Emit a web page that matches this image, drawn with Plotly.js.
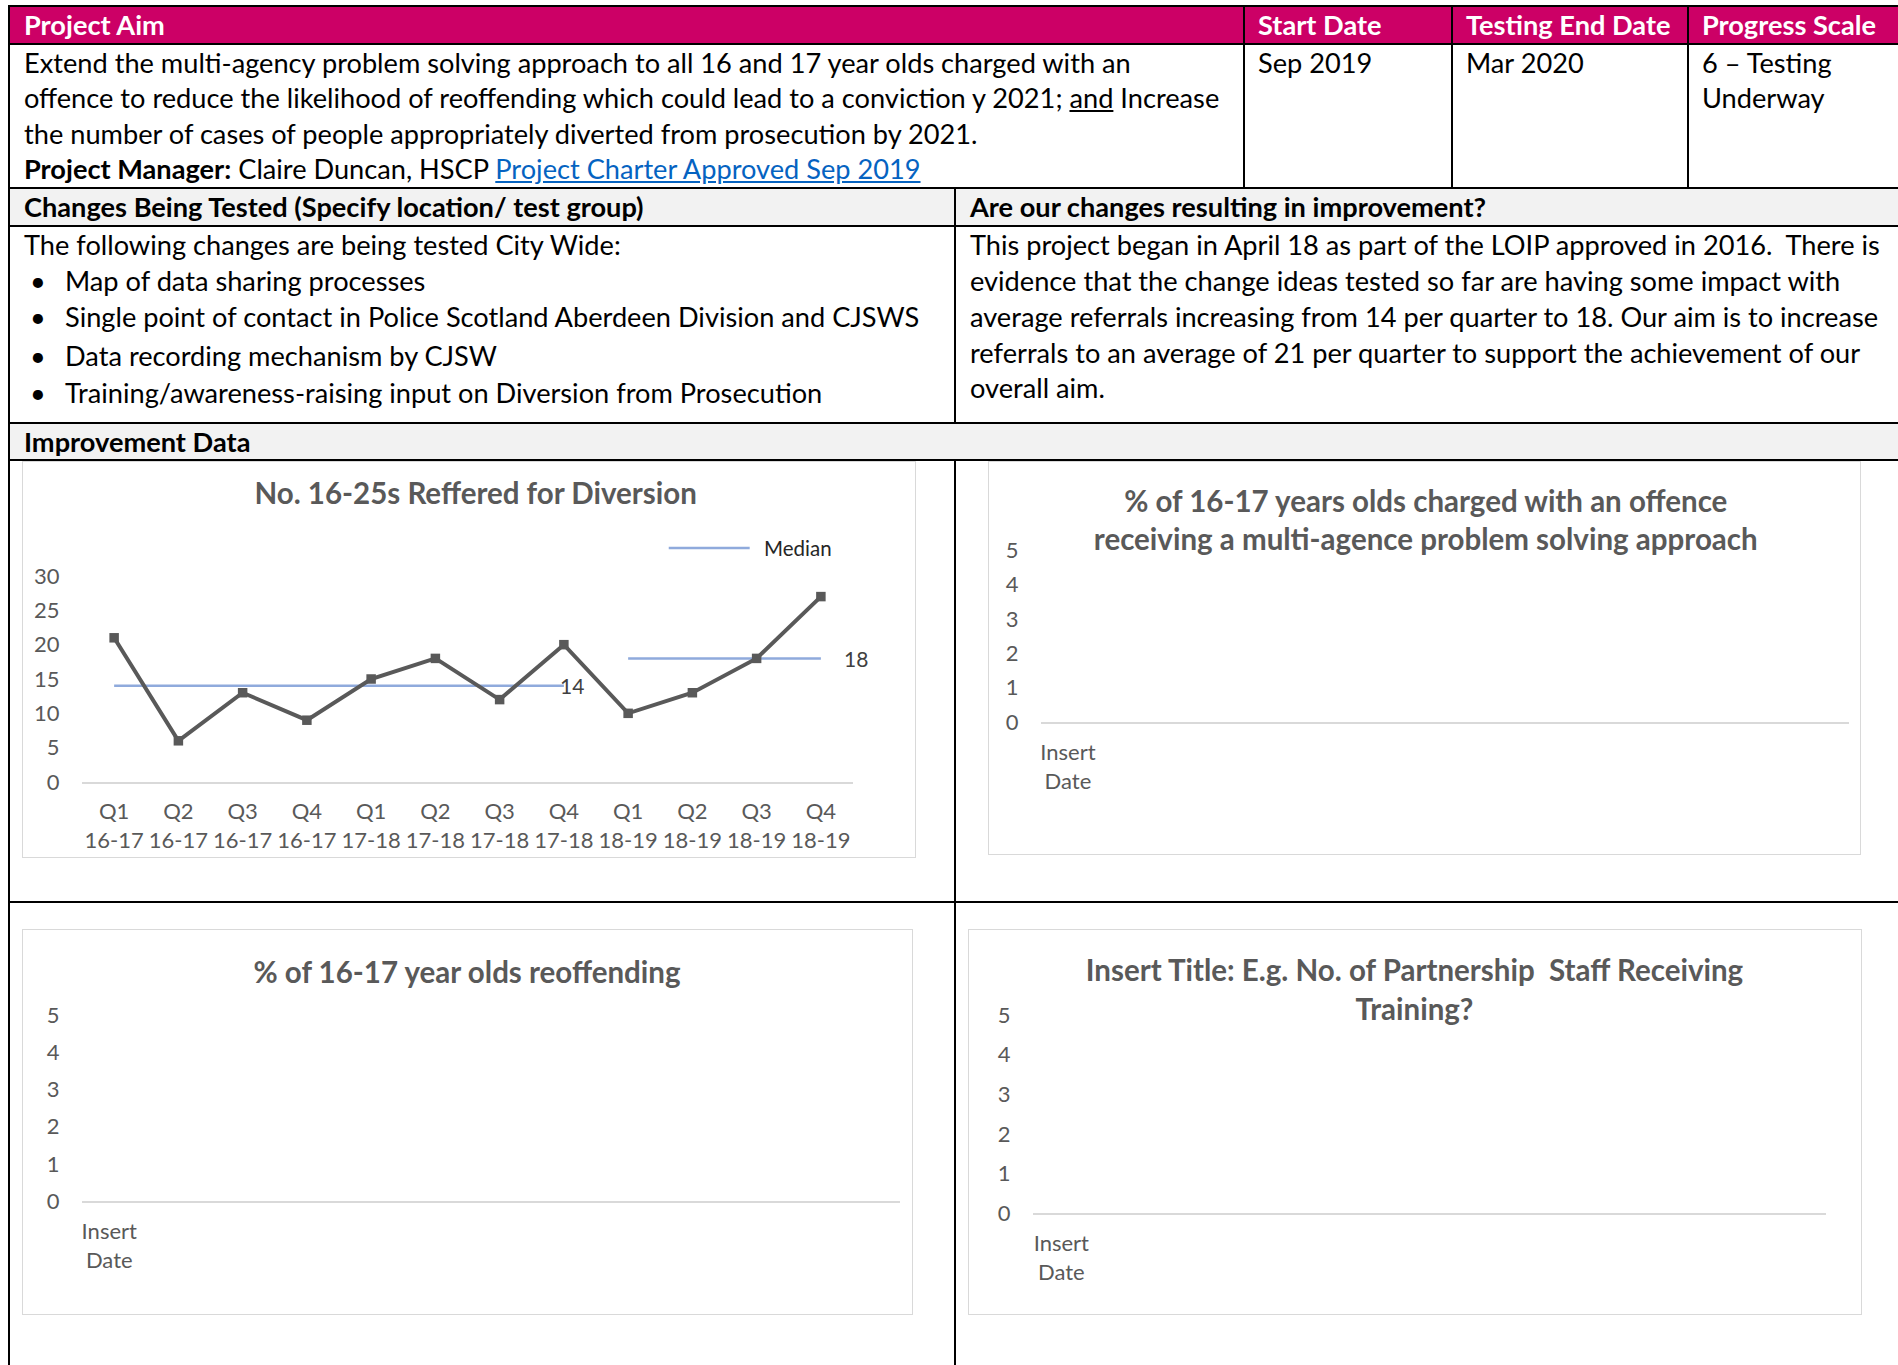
<!DOCTYPE html>
<html><head><meta charset="utf-8">
<script src="https://cdn.plot.ly/plotly-3.0.1.min.js"></script>
<style>
html,body{margin:0;padding:0;background:#fff;width:1898px;height:1365px;overflow:hidden;font-family:Lato,'Open Sans',sans-serif;}
.hl{position:absolute;background:#000;height:2px;}
.vl{position:absolute;background:#000;width:2px;}
.bg{position:absolute;}
.t{position:absolute;white-space:nowrap;font-size:27.2px;color:#000;height:36px;line-height:36px;}
.b{font-weight:bold;}
.w{color:#fff;font-weight:bold;}
.lk{color:#0563c1;text-decoration:underline;}
.u{text-decoration:underline;}
.box{position:absolute;border:1.5px solid #d9d9d9;background:#fff;box-sizing:border-box;}
</style>
</head><body>
<!-- backgrounds -->
<div class="bg" style="left:9px;top:5px;width:1889px;height:40px;background:#cc0066;"></div>
<div class="bg" style="left:9px;top:188px;width:1889px;height:38px;background:#f2f2f2;"></div>
<div class="bg" style="left:9px;top:423px;width:1889px;height:37px;background:#f2f2f2;"></div>
<!-- borders -->
<div class="hl" style="left:9px;top:5px;width:1889px;"></div>
<div class="hl" style="left:9px;top:43px;width:1889px;"></div>
<div class="hl" style="left:9px;top:187px;width:1889px;"></div>
<div class="hl" style="left:9px;top:225px;width:1889px;"></div>
<div class="hl" style="left:9px;top:422px;width:1889px;"></div>
<div class="hl" style="left:9px;top:459px;width:1889px;"></div>
<div class="hl" style="left:9px;top:901px;width:1889px;"></div>
<div class="vl" style="left:8px;top:5px;height:1360px;"></div>
<div class="vl" style="left:1243px;top:5px;height:183px;"></div>
<div class="vl" style="left:1451px;top:5px;height:183px;"></div>
<div class="vl" style="left:1687px;top:5px;height:183px;"></div>
<div class="vl" style="left:954px;top:188px;height:235px;"></div>
<div class="vl" style="left:954px;top:460px;height:905px;"></div>

<!-- header row -->
<div class="t w" style="left:24px;top:7px;">Project Aim</div>
<div class="t w" style="left:1258px;top:7px;">Start Date</div>
<div class="t w" style="left:1466px;top:7px;">Testing End Date</div>
<div class="t w" style="left:1702px;top:7px;">Progress Scale</div>
<!-- row 1 -->
<div class="t" style="left:24px;top:45px;">Extend the multi-agency problem solving approach to all 16 and 17 year olds charged with an</div>
<div class="t" style="left:24px;top:80px;">offence to reduce the likelihood of reoffending which could lead to a conviction y 2021; <span class="u">and</span> Increase</div>
<div class="t" style="left:24px;top:116px;">the number of cases of people appropriately diverted from prosecution by 2021.</div>
<div class="t" style="left:24px;top:151px;"><span class="b">Project Manager:</span> Claire Duncan, HSCP <span class="lk">Project Charter Approved Sep 2019 </span></div>
<div class="t" style="left:1258px;top:45px;">Sep 2019</div>
<div class="t" style="left:1466px;top:45px;">Mar 2020</div>
<div class="t" style="left:1702px;top:45px;">6 – Testing</div>
<div class="t" style="left:1702px;top:80px;">Underway</div>
<!-- row 2 -->
<div class="t b" style="left:24px;top:189px;">Changes Being Tested (Specify location/ test group)</div>
<div class="t b" style="left:970px;top:189px;">Are our changes resulting in improvement?</div>
<div class="t" style="left:24px;top:227px;">The following changes are being tested City Wide:</div>
<div class="t" style="left:30px;top:263px;">•</div><div class="t" style="left:65px;top:263px;">Map of data sharing processes</div>
<div class="t" style="left:30px;top:299px;">•</div><div class="t" style="left:65px;top:299px;">Single point of contact in Police Scotland Aberdeen Division and CJSWS</div>
<div class="t" style="left:30px;top:338px;">•</div><div class="t" style="left:65px;top:338px;">Data recording mechanism by CJSW</div>
<div class="t" style="left:30px;top:375px;">•</div><div class="t" style="left:65px;top:375px;">Training/awareness-raising input on Diversion from Prosecution</div>
<div class="t" style="left:970px;top:227px;">This project began in April 18 as part of the LOIP approved in 2016.&nbsp; There is</div>
<div class="t" style="left:970px;top:263px;">evidence that the change ideas tested so far are having some impact with</div>
<div class="t" style="left:970px;top:299px;">average referrals increasing from 14 per quarter to 18. Our aim is to increase</div>
<div class="t" style="left:970px;top:335px;">referrals to an average of 21 per quarter to support the achievement of our</div>
<div class="t" style="left:970px;top:370px;">overall aim.</div>
<div class="t b" style="left:24px;top:424px;">Improvement Data</div>

<!-- charts -->
<div class="box" id="c1" style="left:22px;top:461px;width:894px;height:397px;"></div>
<div class="box" id="c2" style="left:988px;top:461px;width:873px;height:394px;"></div>
<div class="box" id="c3" style="left:22px;top:929px;width:891px;height:386px;"></div>
<div class="box" id="c4" style="left:968px;top:929px;width:894px;height:386px;"></div>

<script>
// ---- data ----
const quarters = ['Q1<br>16-17','Q2<br>16-17','Q3<br>16-17','Q4<br>16-17',
                  'Q1<br>17-18','Q2<br>17-18','Q3<br>17-18','Q4<br>17-18',
                  'Q1<br>18-19','Q2<br>18-19','Q3<br>18-19','Q4<br>18-19'];
const referrals = [21, 6, 13, 9, 15, 18, 12, 20, 10, 13, 18, 27];
const medianBaseline = [14,14,14,14,14,14,14,14,null,null,null,null];
const medianNew = [null,null,null,null,null,null,null,null,18,18,18,18];
const yTicks1 = [0,5,10,15,20,25,30];
const placeholderDates = ['Insert<br>Date'];
const placeholderValues = [null];
const yTicksEmpty = [0,1,2,3,4,5];

const GREY = '#595959';
const FONT = 'Lato, Open Sans, sans-serif';
const cfg = {staticPlot:true, displayModeBar:false};

function titleObj(text, x, y){
  return {text:text, x:x, xref:'container', xanchor:'center', y:y, yref:'container', yanchor:'middle',
          font:{family:FONT, size:29.5, color:GREY, weight:700}};
}
function axisX(extra){
  return Object.assign({type:'category', showgrid:false, zeroline:false, showline:true,
    linecolor:'#d9d9d9', linewidth:1.5, ticks:'outside', ticklen:9, tickcolor:'rgba(0,0,0,0)',
    tickfont:{family:FONT, size:22, color:GREY}, fixedrange:true}, extra);
}
function axisY(extra){
  return Object.assign({showgrid:false, zeroline:false, showline:false, ticks:'outside', ticklen:17,
    tickcolor:'rgba(0,0,0,0)', tickfont:{family:FONT, size:22, color:GREY}, fixedrange:true}, extra);
}

// ---- chart 1 ----
const W1 = 894, H1 = 397;
Plotly.newPlot('c1', [
  {x:quarters, y:medianBaseline, type:'scatter', mode:'lines', name:'Median',
   line:{color:'#8faadc', width:2.5}, hoverinfo:'skip'},
  {x:quarters, y:medianNew, type:'scatter', mode:'lines', name:'Median',
   line:{color:'#8faadc', width:2.5}, hoverinfo:'skip'},
  {x:quarters, y:referrals, type:'scatter', mode:'lines+markers', name:'Referrals',
   line:{color:GREY, width:4}, marker:{symbol:'square', size:9.5, color:GREY}}
], {
  width:W1-3, height:H1-3,
  margin:{l:59, r:61, t:114, b:74},
  paper_bgcolor:'rgba(0,0,0,0)', plot_bgcolor:'rgba(0,0,0,0)',
  showlegend:false,
  title:titleObj('No. 16-25s Reffered for Diversion', 0.508, 1-32/H1),
  xaxis:axisX({range:[-0.5, quarters.length-0.5]}),
  yaxis:axisY({range:[0,30], tickvals:yTicks1}),
  shapes:[{type:'line', xref:'paper', yref:'paper', x0:0.761, x1:0.866, y0:1.136, y1:1.136,
           line:{color:'#8faadc', width:2.5}}],
  annotations:[
    {xref:'paper', yref:'paper', x:0.882, y:1.136, xanchor:'left', yanchor:'middle', showarrow:false,
     text:'Median', font:{family:FONT, size:20.5, color:'#262626'}},
    {x:quarters[7], y:medianBaseline[7], text:String(medianBaseline[7]), showarrow:false,
     xanchor:'left', yanchor:'middle', xshift:-6, font:{family:FONT, size:21, color:'#404040'}},
    {x:quarters[11], y:medianNew[11], text:String(medianNew[11]), showarrow:false,
     xanchor:'left', yanchor:'middle', xshift:21, font:{family:FONT, size:21, color:'#404040'}}
  ]
}, cfg);

// ---- empty charts ----
function emptyChart(id, W, H, margin, title, tx, ty, nSlots){
  Plotly.newPlot(id, [
    {x:placeholderDates, y:placeholderValues, type:'scatter', mode:'lines+markers', hoverinfo:'skip'}
  ], {
    width:W-3, height:H-3, margin:margin,
    paper_bgcolor:'rgba(0,0,0,0)', plot_bgcolor:'rgba(0,0,0,0)',
    showlegend:false,
    title:titleObj(title, tx, ty),
    xaxis:axisX({range:[-0.5, nSlots-0.5], ticklen:10}),
    yaxis:axisY({range:[0,5], tickvals:yTicksEmpty})
  }, cfg);
}
emptyChart('c2', 873, 394, {l:52, r:10, t:88, b:131},
  '% of 16-17 years olds charged with an offence<br>receiving a multi-agence problem solving approach',
  0.502, 1-50.5/394, 15);
emptyChart('c3', 891, 386, {l:59, r:11, t:85, b:112},
  '% of 16-17 year olds reoffending', 0.500, 1-43/386, 15);
emptyChart('c4', 894, 386, {l:64, r:34, t:85, b:100},
  'Insert Title: E.g. No. of Partnership  Staff Receiving<br>Training?', 0.5, 1-51.6/386, 14);
</script>
</body></html>
